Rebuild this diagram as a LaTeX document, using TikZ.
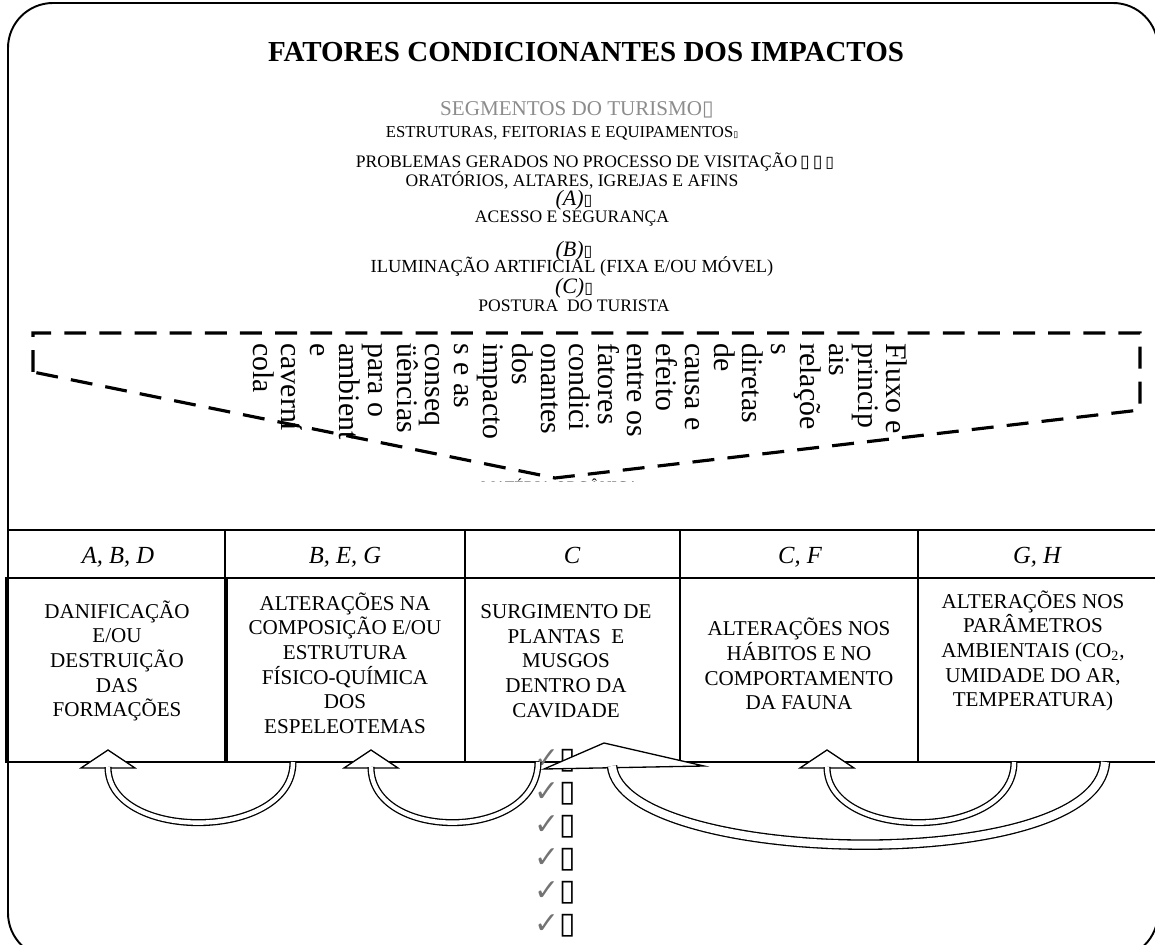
\documentclass[tikz,border=0pt]{standalone}
\usepackage{fontspec}
\setmainfont{Liberation Serif}
\newfontfamily\simbolos{DejaVu Sans}
\usepackage{tikz}
\usetikzlibrary{fit,calc}

\newcommand{\caixa}{{\simbolos\upshape ▯}}

\begin{document}
\begin{tikzpicture}[
    x=0.02cm, y=-0.02cm,
    cell/.style={
        draw,
        line width=1.1pt,
        inner sep=0pt
    },
    cabecalho/.style={
        inner sep=0pt,
        anchor=base,
        font=\fontsize{14}{16}\selectfont\itshape
    },
    corpo/.style={
        align=center,
        inner sep=0pt,
        font=\fontsize{12}{14}\selectfont
    },
    linha/.style={
        align=center,
        inner sep=0pt,
        font=\fontsize{10}{12}\selectfont
    },
    letra/.style={
        inner sep=0pt,
        font=\fontsize{12.5}{14}\selectfont\itshape
    },
    verif/.style={
        inner sep=0pt,
        font=\simbolos\fontsize{17}{17}\selectfont
    },
    haste/.style={
        double,
        double distance=2.5pt,
        line width=0.75pt
    },
    ponta/.style={
        draw,
        fill=white,
        line width=0.75pt
    },
    tracejado/.style={
        line width=1.8pt,
        dash pattern=on 12.5pt off 7.5pt
    }
]

\useasboundingbox (0,0) rectangle (1155,945);
\clip (0,0) rectangle (1155,945);

% Moldura
\draw[line width=1.1pt, rounded corners=0.9cm] (8,3) rectangle (1158,958);

% Titulo e fatores
\node[font=\fontsize{16.5}{18}\selectfont\bfseries] (titulo) at (586,52) {FATORES CONDICIONANTES DOS IMPACTOS};
\node[linha, font=\fontsize{12}{14}\selectfont, text=black!45] (segmentos) at (577,110) {SEGMENTOS DO TURISMO\caixa};
\node[linha, font=\fontsize{9.5}{11}\selectfont] (estruturas) at (562,133) {ESTRUTURAS, FEITORIAS E EQUIPAMENTOS{\tiny\caixa}};
\node[linha] (problemas) at (595,162) {PROBLEMAS GERADOS NO PROCESSO DE VISITAÇÃO\,\caixa\,\caixa\,{\small\caixa}};
\node[linha] (oratorios) at (572,180) {ORATÓRIOS, ALTARES, IGREJAS E AFINS};
\node[letra] (fatorA) at (574,200) {(A){\small\caixa}};
\node[linha] (acesso) at (572,219) {ACESSO E SEGURANÇA};
\node[letra] (fatorB) at (574,251) {(B){\small\caixa}};
\node[linha, font=\fontsize{10.5}{12}\selectfont] (iluminacao) at (572,267) {ILUMINAÇÃO ARTIFICIAL (FIXA E/OU MÓVEL)};
\node[letra] (fatorC) at (574,288) {(C){\small\caixa}};
\node[linha] (postura) at (574,306) {POSTURA\ \ DO TURISTA};

% Seta tracejada com o texto vertical
\begin{scope}
    \clip (480,460) rectangle (640,481);
    \node[font=\fontsize{9}{10}\selectfont] (materia) at (560,486) {MATÉRIA ORGÂNICA};
\end{scope}
\draw[tracejado] (33,372) -- (33,333) -- (1140,333) -- (1140,410) -- (555,478) -- cycle;
\node[rotate=-90, anchor=north west, align=left, inner sep=0pt,
      font=\fontsize{17}{16.4}\selectfont] (fluxo) at (908,343)
      {Fluxo e\\princip\\ais\\relaçõe\\s\\diretas\\de\\causa e\\efeito\\entre os\\fatores\\condici\\onantes\\dos\\impacto\\s e as\\conseq\\üências\\para o\\ambient\\e\\caverní\\cola};

% Tabela dos impactos
\node[cell, fit={(8,530) (225,578)}] (h1) {};
\node[cell, fit={(225,530) (465,578)}] (h2) {};
\node[cell, fit={(465,530) (680,578)}] (h3) {};
\node[cell, fit={(680,530) (918,578)}] (h4) {};
\node[cell, fit={(918,530) (1158,578)}] (h5) {};
\node[cabecalho] (l1) at (118,563) {A, B, D};
\node[cabecalho] (l2) at (345,563) {B, E, G};
\node[cabecalho] (l3) at (572,563) {C};
\node[cabecalho] (l4) at (800,563) {C, F};
\node[cabecalho] (l5) at (1037,563) {G, H};

\node[cell, fit={(8,578) (225,762)}] (b1) {};
\node[cell, fit={(225,578) (465,762)}] (b2) {};
\node[cell, fit={(465,578) (680,762)}] (b3) {};
\node[cell, fit={(680,578) (918,762)}] (b4) {};
\node[cell, fit={(918,578) (1158,762)}] (b5) {};
\draw[line width=1.8pt] (b1.north east) -- (b1.south east);
\draw[line width=1.8pt] (b1.north west) -- (b1.south west);

\node[corpo] (t1) at (117,661) {DANIFICAÇÃO\\E/OU\\DESTRUIÇÃO\\DAS\\FORMAÇÕES};
\node[corpo] (t2) at (345,663) {ALTERAÇÕES NA\\COMPOSIÇÃO E/OU\\ESTRUTURA\\FÍSICO-QUÍMICA\\DOS\\ESPELEOTEMAS};
\node[corpo] (t3) at (566,661) {SURGIMENTO DE\\PLANTAS\ \ E\\MUSGOS\\DENTRO DA\\CAVIDADE};
\node[corpo] (t4) at (799,664) {ALTERAÇÕES NOS\\HÁBITOS E NO\\COMPORTAMENTO\\DA FAUNA};
\node[corpo] (t5) at (1033,651) {ALTERAÇÕES NOS\\PARÂMETROS\\AMBIENTAIS (CO\textsubscript{2},\\UMIDADE DO AR,\\TEMPERATURA)};

% Marcas de verificacao
\foreach \y [count=\i] in {761,794,827,860,893,926}
    \node[verif] (v\i) at (555,\y) {{\color{black!55}✓}\caixa};

% Setas curvas entre os impactos
\coordinate (s1) at (293,762);  \coordinate (e1) at (108,767);
\coordinate (s2) at (538,762);  \coordinate (e2) at (371,767);
\coordinate (s3) at (1105,762); \coordinate (e3) at (612,766);
\coordinate (s4) at (1014,762); \coordinate (e4) at (827,767);

\foreach \p in {e1,e2,e4}
    \draw[ponta] ($(\p)+(-27,1)$) -- ($(\p)+(0,-17)$) -- ($(\p)+(27,1)$) -- cycle;
\draw[ponta] ($(e3)+(-68,3)$) -- ($(e3)+(-8,-23)$) -- ($(e3)+(92,0)$) -- cycle;

\draw[haste] (s1) .. controls +(0,80) and +(0,75) .. (e1);
\draw[haste] (s2) .. controls +(0,80) and +(0,75) .. (e2);
\draw[haste] (s4) .. controls +(0,80) and +(0,75) .. (e4);
\draw[haste, double distance=4.5pt] (s3) .. controls +(-8,115) and +(10,100) .. (e3);

\end{tikzpicture}
\end{document}
